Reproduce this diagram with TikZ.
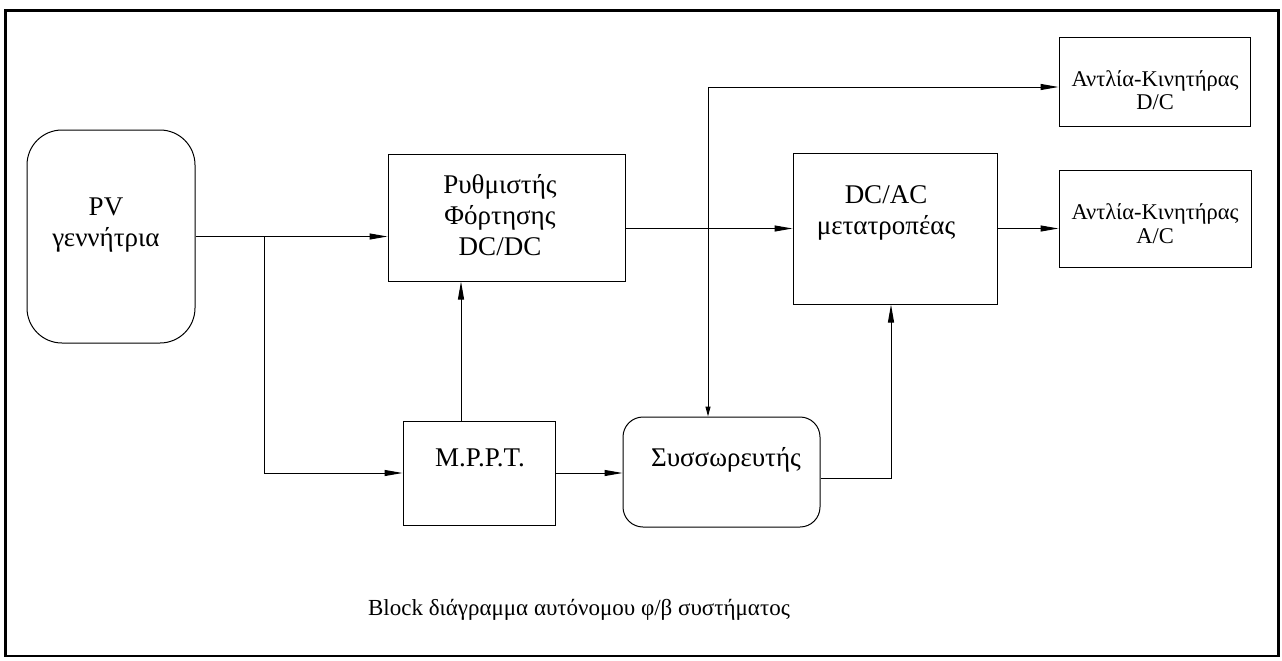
\documentclass[tikz,border=0pt]{standalone}
\usepackage{fontspec}
\setmainfont{Liberation Serif}
\usetikzlibrary{arrows.meta}

\begin{document}
\begin{tikzpicture}[x=1pt,y=-1pt,
		box/.style={draw,line width=1pt,inner sep=0pt},
		txt/.style={align=center,font=\fontsize{27}{31}\selectfont},
		smalltxt/.style={align=center,font=\fontsize{22.5}{23.5}\selectfont},
		arr/.style={line width=1pt,-{Triangle[length=18pt,width=6pt]}},
		arrsmall/.style={line width=1pt,-{Triangle[length=10pt,width=5pt]}}]
		\useasboundingbox (0,0) rectangle (1282,661);
		\draw[line width=2.7pt] (5.5,10.5) rectangle (1278.5,656);

		% blocks
		\node[box,rounded corners=35pt,minimum width=168pt,minimum height=213pt] (pv) at (111,236.5) {};
		\node[box,minimum width=237pt,minimum height=127pt] (reg) at (506.5,217.5) {};
		\node[box,minimum width=152pt,minimum height=104pt] (mppt) at (479,473) {};
		\node[box,rounded corners=20pt,minimum width=197pt,minimum height=110pt] (bat) at (721.5,472) {};
		\node[box,minimum width=204pt,minimum height=151pt] (dcac) at (895,228.5) {};
		\node[box,minimum width=191pt,minimum height=88pt] (dcm) at (1154.5,82) {};
		\node[box,minimum width=192pt,minimum height=97pt] (acm) at (1155,218.5) {};

		% texts
		\node[txt] (pvtext) at (106,225) {PV\\γεννήτρια};
		\node[txt] (regtext) at (500,215) {Ρυθμιστής\\Φόρτησης\\DC/DC};
		\node[txt] (mppttext) at (480,458) {M.P.P.T.};
		\node[txt] (battext) at (726,460) {Συσσωρευτής};
		\node[txt] (dcactext) at (886,212.5) {DC/AC\\μετατροπέας};
		\node[smalltxt] (dcmtext) at (1155,90) {Αντλία-Κινητήρας\\D/C};
		\node[smalltxt] (acmtext) at (1155,223.5) {Αντλία-Κινητήρας\\A/C};
		\node[font=\fontsize{23}{27}\selectfont] (caption) at (579,610) {Block διάγραμμα αυτόνομου φ/β συστήματος};

		% connections
		\coordinate (br) at (264,236.5);
		\coordinate (tap) at (708,87);
		\draw[arr] (pv.east) -- (pv.east -| reg.west);
		\draw[arr] (br) |- (mppt.west);
		\draw[arr] ([xshift=-18pt]mppt.north) -- ([xshift=-18pt]mppt.north |- reg.south);
		\draw[arr] (mppt.east) -- (mppt.east -| bat.west);
		\draw[arr] (reg.east |- dcac.west) -- (dcac.west);
		\draw[arr] (dcac.east) -- (dcac.east -| acm.west);
		\draw[arr] (tap) -- (tap -| dcm.west);
		\draw[arrsmall] (tap) -- (tap |- bat.north);
		\draw[arr] ([yshift=-6pt]bat.east) -| ([xshift=-4pt]dcac.south);
\end{tikzpicture}
\end{document}
